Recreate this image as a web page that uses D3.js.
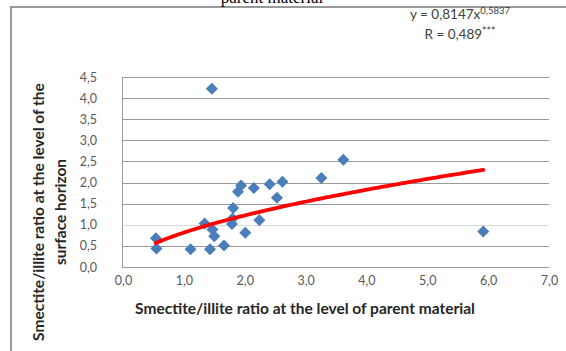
<!DOCTYPE html>
<html><head><meta charset="utf-8">
<script src="https://cdn.jsdelivr.net/npm/d3@7"></script>
<style>body{margin:0;background:#fff}svg{display:block}</style>
</head><body>
<svg id="c" width="566" height="351"></svg>
<script>
const xValues = [0.54,0.55,1.11,1.34,1.43,1.47,1.50,1.46,1.66,1.79,1.80,1.81,1.89,1.94,2.01,2.15,2.24,2.41,2.53,2.62,3.26,3.62,5.92];
const yValues = [0.68,0.44,0.42,1.03,0.42,0.89,0.73,4.22,0.51,1.02,1.15,1.40,1.78,1.93,0.81,1.87,1.11,1.96,1.64,2.02,2.11,2.54,0.84];
const xTicks = [0,1,2,3,4,5,6,7];
const yTicks = [0,0.5,1,1.5,2,2.5,3,3.5,4,4.5];
const powerFit = [0.8147, 0.5837]; // y = a * x^b, as printed on the chart
const fitRange = [0.54, 5.92];

const svg = d3.select("#c");
const fmt = d => d.toFixed(1).replace(".", ",");
const x = d3.scaleLinear().domain([0,7]).range([123,549]);
const y = d3.scaleLinear().domain([0,4.5]).range([267,77]);

// frame
svg.append("rect").attr("x",11).attr("y",7).attr("width",600).attr("height",400)
  .attr("fill","none").attr("stroke","#999").attr("stroke-width",2);

// cut-off title (partly outside the picture, as in the reference)
svg.append("text").attr("x",272).attr("y",3).attr("text-anchor","middle")
  .attr("font-family","Liberation Serif").attr("font-size",17).attr("fill","#000")
  .text("parent material");

// gridlines
svg.append("g").selectAll("line").data(yTicks).join("line")
  .attr("x1",x(0)).attr("x2",x(7)).attr("y1",d=>Math.round(y(d))+0.5).attr("y2",d=>Math.round(y(d))+0.5)
  .attr("stroke",d=>d===1?"#d9d9d9":"#9a9a9a").attr("stroke-width",1);
svg.append("line").attr("x1",x(0)-0.5).attr("x2",x(0)-0.5).attr("y1",y(4.5)).attr("y2",y(0)+1)
  .attr("stroke","#9a9a9a");

// axes labels via d3 axes
const yAxis = svg.append("g").attr("transform",`translate(${x(0)-26},0)`)
  .call(d3.axisLeft(y).tickValues(yTicks).tickFormat(fmt).tickSize(0).tickPadding(0));
yAxis.select(".domain").remove();
yAxis.selectAll("text").attr("font-family","Lato").attr("font-size",12.5).attr("fill","#595959").attr("x",0);

const xAxis = svg.append("g").attr("transform",`translate(0,${y(0)+5})`)
  .call(d3.axisBottom(x).tickValues(xTicks).tickFormat(fmt).tickSize(0).tickPadding(0));
xAxis.select(".domain").remove();
xAxis.selectAll("text").attr("font-family","Lato").attr("font-size",12.5).attr("fill","#595959").attr("dy","1.05em");

// axis titles
svg.append("text").attr("x",305).attr("y",314).attr("text-anchor","middle")
  .attr("font-family","Lato").attr("font-weight","bold").attr("font-size",15.5).attr("fill","#262626")
  .text("Smectite/illite ratio at the level of parent material");
const yt = svg.append("text").attr("transform","translate(0,212) rotate(-90)")
  .attr("text-anchor","middle").attr("font-family","Lato").attr("font-weight","bold")
  .attr("font-size",15.5).attr("fill","#262626");
yt.append("tspan").attr("x",0).attr("y",44).text("Smectite/illite ratio at the level of the");
yt.append("tspan").attr("x",0).attr("y",66).text("surface horizon");

// points
const pts = xValues.map((v,i)=>[v,yValues[i]]);
svg.append("g").selectAll("rect").data(pts).join("rect")
  .attr("width",8.5).attr("height",8.5).attr("x",-4.25).attr("y",-4.25)
  .attr("transform",d=>`translate(${x(d[0])},${y(d[1])}) rotate(45)`)
  .attr("fill","#4a7ebb");

// trend line
const lineData = d3.range(0,101).map(i=>{
  const xv = fitRange[0] + (fitRange[1]-fitRange[0])*i/100;
  return [xv, powerFit[0]*Math.pow(xv,powerFit[1])];
});
svg.append("path").datum(lineData)
  .attr("d",d3.line().x(d=>x(d[0])).y(d=>y(d[1])))
  .attr("fill","none").attr("stroke","#ff0000").attr("stroke-width",3.8).attr("stroke-linecap","round");

// equation
const eq = svg.append("text").attr("x",460).attr("y",19).attr("text-anchor","middle")
  .attr("font-family","Lato").attr("font-size",13.5).attr("fill","#404040");
eq.append("tspan").text("y = 0,8147x");
eq.append("tspan").attr("dy",-5).attr("font-size",9.5).text("0,5837");
const r = svg.append("text").attr("x",460).attr("y",39).attr("text-anchor","middle")
  .attr("font-family","Lato").attr("font-size",13.5).attr("fill","#404040");
r.append("tspan").text("R = 0,489");
r.append("tspan").attr("dy",-4).attr("font-size",10.5).text("***");
</script>
</body></html>
